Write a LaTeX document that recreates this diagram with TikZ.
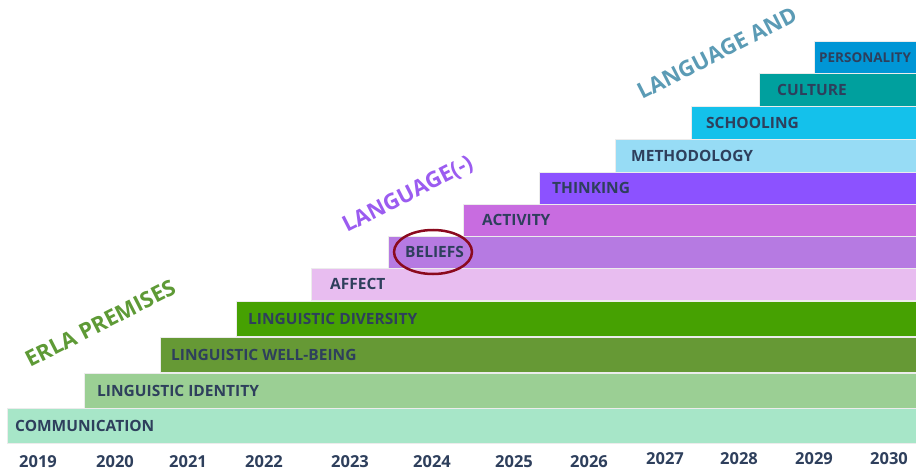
\documentclass[tikz,border=0pt]{standalone}
\usepackage{fontspec}
\setmainfont{Open Sans}
\usepackage{tikz}
\usetikzlibrary{shapes.geometric}

\definecolor{txtcol}{HTML}{2E3F5C}
\definecolor{commcol}{HTML}{A7E6C8}
\definecolor{identcol}{HTML}{9BCF94}
\definecolor{wellcol}{HTML}{669935}
\definecolor{divcol}{HTML}{46A102}
\definecolor{affcol}{HTML}{E8BDF0}
\definecolor{belcol}{HTML}{B67AE2}
\definecolor{actcol}{HTML}{C86CE0}
\definecolor{thinkcol}{HTML}{8C52FF}
\definecolor{methcol}{HTML}{97DCF5}
\definecolor{schoolcol}{HTML}{14C1EB}
\definecolor{cultcol}{HTML}{00A09E}
\definecolor{perscol}{HTML}{0096D6}
\definecolor{erlacol}{HTML}{5E9A36}
\definecolor{langcol}{HTML}{9B5CF0}
\definecolor{andcol}{HTML}{5B9BB5}
\definecolor{ringcol}{HTML}{8B0A1E}

\begin{document}
\begin{tikzpicture}[
x=1pt, y=-1pt,
bar/.style={
	rectangle, draw=white!85!gray, line width=0.5pt,
	anchor=north west, inner sep=0pt
},
lbl/.style={
	font=\bfseries\fontsize{15.5}{15.5}\selectfont,
	text=txtcol, anchor=west, inner sep=0pt
},
year/.style={font=\bfseries\fontsize{16.5}{16.5}\selectfont, text=txtcol, inner sep=0pt},
title/.style={rotate=27, anchor=base west, inner sep=0pt,
	font=\bfseries\fontsize{22}{22}\selectfont}
]
\useasboundingbox (0,0) rectangle (916,468);
% bars, from bottom to top
\node[bar, fill=commcol, minimum width=909pt, minimum height=35pt] (comm) at (7,408) {};
\node[bar, fill=identcol, minimum width=832pt, minimum height=35pt] (ident) at (84,373) {};
\node[bar, fill=wellcol, minimum width=756pt, minimum height=35pt] (well) at (160,337) {};
\node[bar, fill=divcol, minimum width=680pt, minimum height=35pt] (div) at (236,301) {};
\node[bar, fill=affcol, minimum width=605pt, minimum height=32pt] (aff) at (311,268) {};
\node[bar, fill=belcol, minimum width=528pt, minimum height=32pt] (bel) at (388,236) {};
\node[bar, fill=actcol, minimum width=453pt, minimum height=32pt] (act) at (463,204) {};
\node[bar, fill=thinkcol, minimum width=377pt, minimum height=32pt] (think) at (539,172) {};
\node[bar, fill=methcol, minimum width=301pt, minimum height=33pt] (meth) at (615,139) {};
\node[bar, fill=schoolcol, minimum width=225pt, minimum height=33pt] (school) at (691,106) {};
\node[bar, fill=cultcol, minimum width=157pt, minimum height=33pt] (cult) at (759,73) {};
\node[bar, fill=perscol, minimum width=102pt, minimum height=32pt] (pers) at (814,41) {};
% labels
\node[lbl] (commL) at ([xshift=8pt]comm.west) {COMMUNICATION};
\node[lbl] (identL) at ([xshift=13pt]ident.west) {LINGUISTIC IDENTITY};
\node[lbl] (wellL) at ([xshift=11pt]well.west) {LINGUISTIC WELL-BEING};
\node[lbl] (divL) at ([xshift=12pt]div.west) {LINGUISTIC DIVERSITY};
\node[lbl] (affL) at ([xshift=19pt]aff.west) {AFFECT};
\node[lbl] (belL) at ([xshift=17pt]bel.west) {BELIEFS};
\node[lbl] (actL) at ([xshift=19pt]act.west) {ACTIVITY};
\node[lbl] (thinkL) at ([xshift=13pt]think.west) {THINKING};
\node[lbl] (methL) at ([xshift=16pt]meth.west) {METHODOLOGY};
\node[lbl] (schoolL) at ([xshift=15pt]school.west) {SCHOOLING};
\node[lbl] (cultL) at ([xshift=18pt]cult.west) {CULTURE};
\node[lbl, font=\bfseries\fontsize{13.5}{13.5}\selectfont] (persL) at ([xshift=5pt]pers.west) {PERSONALITY};
% ring round BELIEFS
\node[ellipse, draw=ringcol, line width=2.5pt, minimum width=78pt, minimum height=44pt] (ring) at (433,252) {};
% titles
\node[title, text=erlacol] (erla) at (30,368) {ERLA PREMISES};
\node[title, text=langcol] (lang) at (347,233) {LANGUAGE(-)};
\node[title, text=andcol] (and) at (642,100) {LANGUAGE AND};
% years
\foreach \yr/\xp/\yp in {2019/38/462, 2020/115/462, 2021/188/462, 2022/264/462,
	2023/350/462, 2024/432/462, 2025/514/462, 2026/589/462,
	2027/665/459, 2028/739/459, 2029/814/459, 2030/889/459}
{
	\node[year] (y\yr) at (\xp,\yp) {\yr};
}
\end{tikzpicture}
\end{document}
